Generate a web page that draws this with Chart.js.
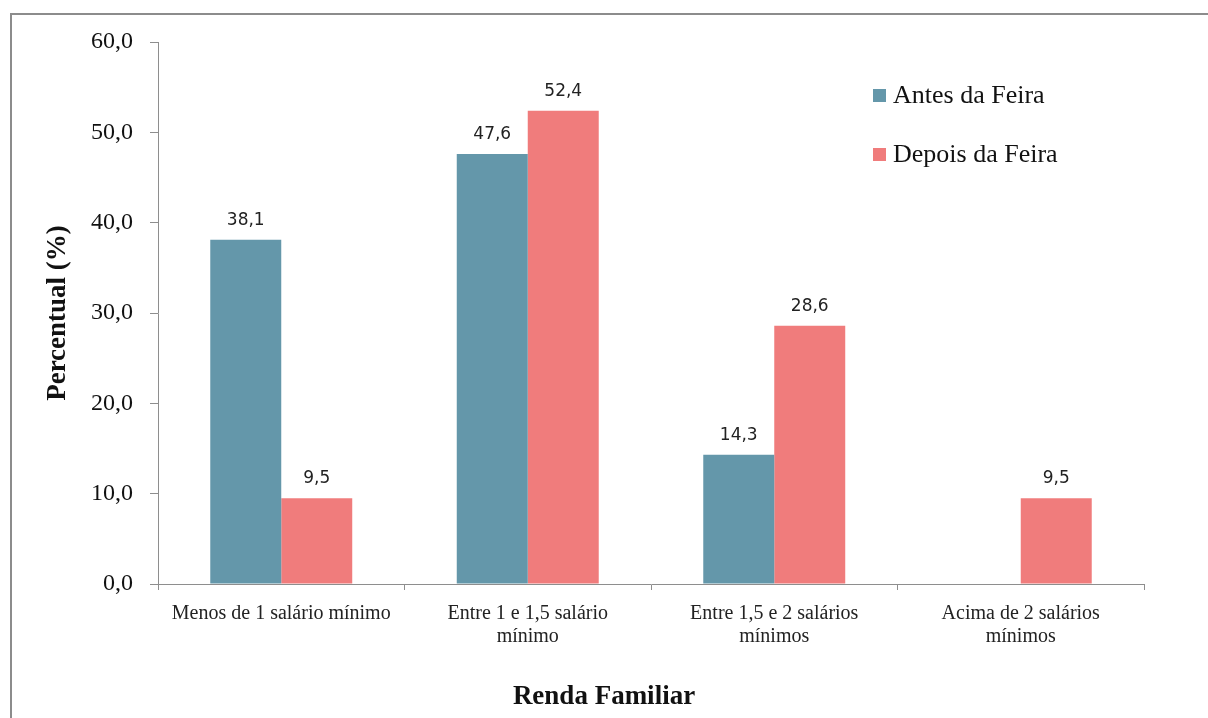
<!DOCTYPE html>
<html>
<head>
<meta charset="utf-8">
<script src="https://cdn.jsdelivr.net/npm/chart.js@4.4.0/dist/chart.umd.min.js"></script>
<style>
  body { margin: 0; background: #fff; overflow: hidden; }
  #wrap { position: relative; width: 1208px; height: 718px; }
  #frame { position: absolute; left: 10px; top: 13px; width: 1230px; height: 730px; border: 2px solid #8c8c8c; box-sizing: border-box; }
  #chart { position: absolute; left: 0; top: 0; }
  .leg { position: absolute; left: 873px; font: 26px "Liberation Serif", serif; color: #111; display: flex; align-items: center; }
  .leg span.box { display: inline-block; width: 13px; height: 13px; margin-right: 7px; }
  #xtitle { position: absolute; left: 0; width: 1208px; top: 680px; text-align: center; font: bold 27px "Liberation Serif", serif; color: #111; }
</style>
</head>
<body>
<div id="wrap">
  <div id="frame"></div>
  <canvas id="chart" width="1208" height="718"></canvas>
  <div class="leg" style="top:80px"><span class="box" style="background:#6497AA"></span>Antes da Feira</div>
  <div class="leg" style="top:139px"><span class="box" style="background:#F07C7C"></span>Depois da Feira</div>
  <div id="xtitle">Renda Familiar</div>
</div>
<script>
const categories = [
    'Menos de 1 salário mínimo',
    ['Entre 1 e 1,5 salário', 'mínimo'],
    ['Entre 1,5 e 2 salários', 'mínimos'],
    ['Acima de 2 salários', 'mínimos']
];
const antes = [38.1, 47.6, 14.3, null];
const depois = [9.5, 52.4, 28.6, 9.5];
const yTicks = [0, 10, 20, 30, 40, 50, 60];

function fmt(v) {
    return v.toFixed(1).replace('.', ',');
}

// valores em cima das barras
const barLabels = {
    id: 'barLabels',
    afterDatasetsDraw(chart) {
        const c = chart.ctx;
        c.save();
        c.font = '17px "DejaVu Sans", sans-serif';
        c.fillStyle = '#222';
        c.textAlign = 'center';
        c.textBaseline = 'alphabetic';
        chart.data.datasets.forEach((ds, i) => {
            chart.getDatasetMeta(i).data.forEach((bar, j) => {
                if (ds.data[j] == null) return;
                c.fillText(fmt(ds.data[j]), bar.x, bar.y - 15);
            });
        });
        c.restore();
    }
};

const ctx = document.getElementById('chart').getContext('2d');
new Chart(ctx, {
    type: 'bar',
    data: {
        labels: categories,
        datasets: [{
            label: 'Antes da Feira',
            data: antes,
            backgroundColor: '#6497AA'
        }, {
            label: 'Depois da Feira',
            data: depois,
            backgroundColor: '#F07C7C'
        }]
    },
    options: {
        responsive: false,
        animation: false,
        layout: { padding: { left: 0, top: 42, right: 64, bottom: 0 } },
        datasets: { bar: { categoryPercentage: 0.576, barPercentage: 1.0 } },
        plugins: {
            legend: { display: false },
            tooltip: { enabled: false }
        },
        scales: {
            x: {
                grid: { drawOnChartArea: false, tickLength: 6, color: '#8e8e8e', offset: true },
                border: { color: '#8e8e8e', width: 1 },
                ticks: {
                    color: '#222',
                    padding: 12,
                    maxRotation: 0,
                    autoSkip: false,
                    font: { family: '"Liberation Serif", serif', size: 20, lineHeight: 1.15 }
                },
                afterFit(scale) { scale.height = 134; }
            },
            y: {
                min: 0,
                max: 60,
                afterBuildTicks(scale) { scale.ticks = yTicks.map(v => ({ value: v })); },
                grid: { drawOnChartArea: false, tickLength: 8, color: '#8e8e8e' },
                border: { color: '#8e8e8e', width: 1 },
                ticks: {
                    color: '#111',
                    padding: 17,
                    font: { family: '"Liberation Serif", serif', size: 24 },
                    callback: v => fmt(v)
                },
                title: {
                    display: true,
                    text: 'Percentual (%)',
                    color: '#111',
                    padding: { top: 42, bottom: 0 },
                    font: { family: '"Liberation Serif", serif', size: 27, weight: 'bold' }
                },
                afterFit(scale) { scale.width = 158; }
            }
        }
    },
    plugins: [barLabels]
});
</script>
</body>
</html>
